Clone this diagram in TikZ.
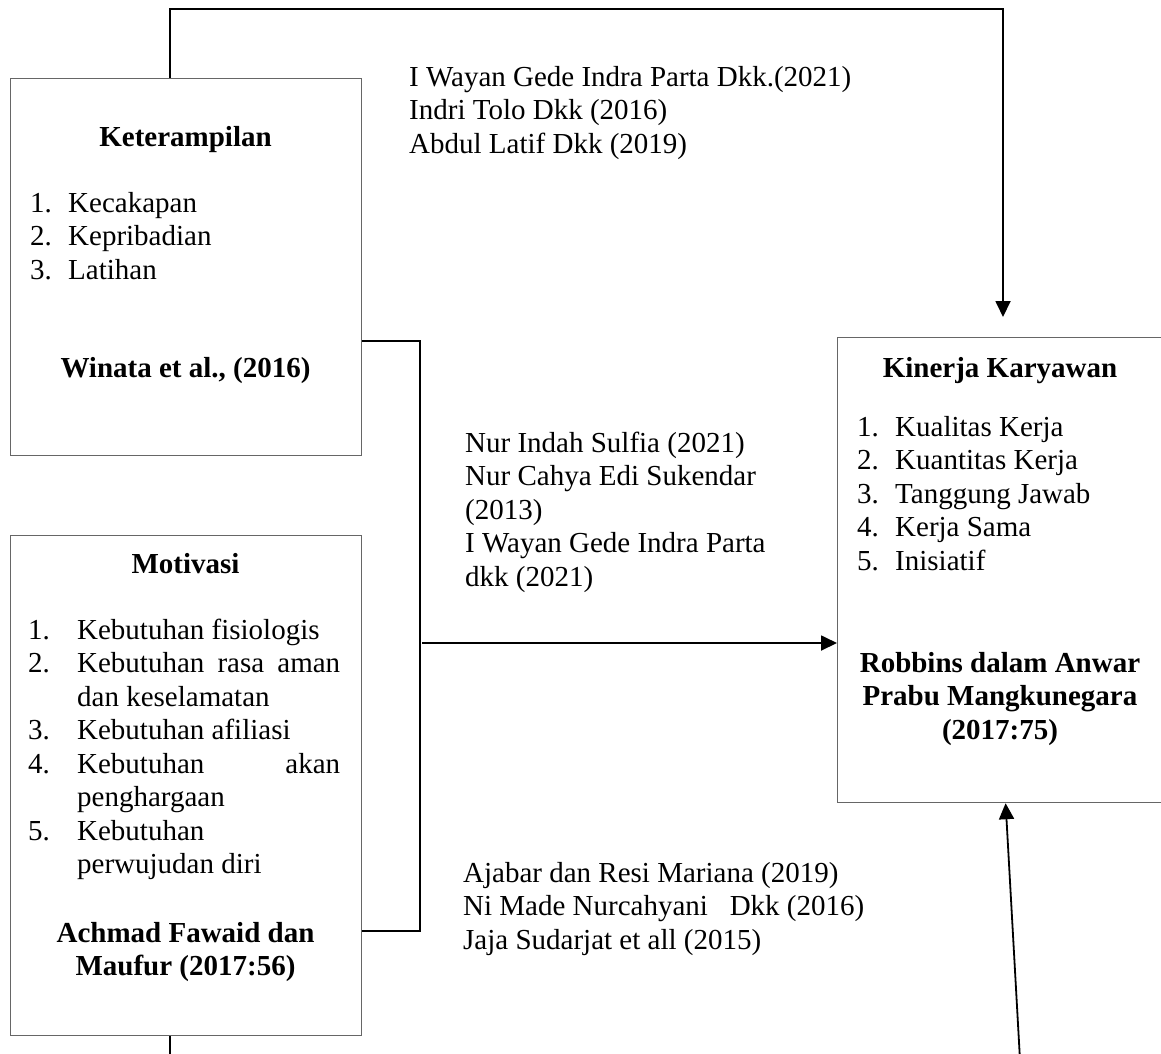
\documentclass[tikz,border=0pt]{standalone}
\usepackage{fontspec}
\setmainfont{Liberation Serif}
\usetikzlibrary{arrows.meta, positioning}

\newcommand{\butir}[3][38pt]{\makebox[#1][l]{#2}#3}

\tikzset{
  kotak/.style={draw=black!60, line width=1.2pt, minimum width=351pt, anchor=north west, inner sep=0pt},
  garis/.style={line width=1.8pt},
  panah/.style={garis, -{Triangle[length=16pt,width=15pt]}},
  teks/.style={inner sep=0pt, font=\fontsize{29}{33.5}\selectfont, align=left},
  judul/.style={inner sep=0pt, font=\fontsize{29}{33.5}\selectfont\bfseries, align=center}
}

\begin{document}
\begin{tikzpicture}[x=1pt, y=-1pt]
        \useasboundingbox (0,0) rectangle (1161,1053);
        \clip (0,0) rectangle (1161,1053);

        % kotak variabel
        \node[kotak, minimum height=377pt] (ket) at (10,78) {};
        \node[kotak, minimum height=500pt] (mot) at (10,535) {};
        \node[kotak, minimum width=326pt, minimum height=465pt] (kin) at (837,337) {};

        % isi kotak (base = baris terakhir)
        \node[judul, anchor=base] (ketT) at (185.5,146) {Keterampilan};
        \node[teks, anchor=base west] (ketL) at (30,279) {\butir{1.}{Kecakapan}\\ \butir{2.}{Kepribadian}\\ \butir{3.}{Latihan}};
        \node[judul, anchor=base] (ketS) at (185.5,377) {Winata et al., (2016)};

        \node[judul, anchor=base] (motT) at (185.5,573) {Motivasi};
        \node[teks, anchor=base west] (motL) at (28,873.5) {\butir[49pt]{1.}{Kebutuhan fisiologis}\\
            \butir[49pt]{2.}{\makebox[263pt][s]{Kebutuhan rasa aman}}\\
            \hspace*{49pt}dan keselamatan\\
            \butir[49pt]{3.}{Kebutuhan afiliasi}\\
            \butir[49pt]{4.}{\makebox[263pt][s]{Kebutuhan akan}}\\
            \hspace*{49pt}penghargaan\\
            \butir[49pt]{5.}{Kebutuhan}\\
            \hspace*{49pt}perwujudan diri};
        \node[judul, anchor=base] (motS) at (185.5,975.5) {Achmad Fawaid dan\\ Maufur (2017:56)};

        \node[judul, anchor=base] (kinT) at (1000,377) {Kinerja Karyawan};
        \node[teks, anchor=base west] (kinL) at (857,570) {\butir{1.}{Kualitas Kerja}\\ \butir{2.}{Kuantitas Kerja}\\
            \butir{3.}{Tanggung Jawab}\\ \butir{4.}{Kerja Sama}\\ \butir{5.}{Inisiatif}};
        \node[judul, anchor=base] (kinS) at (1000,739) {Robbins dalam Anwar\\ Prabu Mangkunegara\\ (2017:75)};

        % rujukan
        \node[teks, anchor=base west] (ref1) at (409,153) {I Wayan Gede Indra Parta Dkk.(2021)\\ Indri Tolo Dkk (2016)\\ Abdul Latif Dkk (2019)};
        \node[teks, anchor=base west] (ref2) at (465,586) {Nur Indah Sulfia (2021)\\ Nur Cahya Edi Sukendar\\ (2013)\\ I Wayan Gede Indra Parta\\ dkk (2021)};
        \node[teks, anchor=base west] (ref3) at (463,949) {Ajabar dan Resi Mariana (2019)\\ Ni Made Nurcahyani\ \ \ Dkk (2016)\\ Jaja Sudarjat et all (2015)};

        % garis penghubung
        \coordinate (atasL) at (170,9);
        \coordinate (atasR) at (1003,9);
        \coordinate (simpul1) at (420,341);
        \coordinate (simpul2) at (420,931);
        \coordinate (simpul3) at (422,643);
        \coordinate (bawahL) at (170,1060);
        \coordinate (bawahR) at (1020,1060);

        \draw[panah, shorten >=20pt] (ket.north -| atasL) -- (atasL) -- (atasR) -- (kin.north -| atasR);
        \draw[garis] (ket.east |- simpul1) -- (simpul1) -- (simpul2) -- (mot.east |- simpul2);
        \draw[panah] (simpul3) -- (kin.west |- simpul3);
        \draw[garis] (mot.south -| bawahL) -- (bawahL);
        \draw[panah] (bawahR) -- ([xshift=5pt]kin.south);
    \end{tikzpicture}
\end{document}
